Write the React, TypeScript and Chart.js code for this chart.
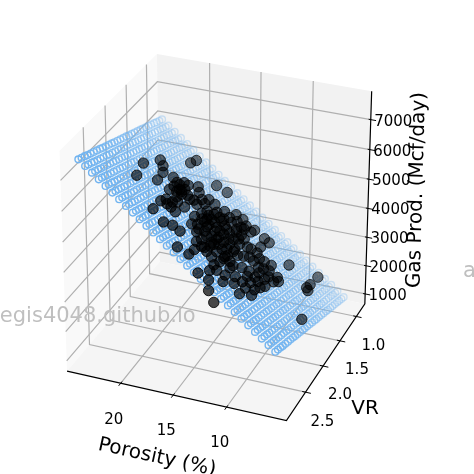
import React, { useEffect, useRef } from "react";
import { Chart, registerables } from "chart.js";
Chart.register(...registerables);

const porosityTicks = [20, 15, 10];
const vrTicks = [1.0, 1.5, 2.0, 2.5];
const gasTicks = [1000, 2000, 3000, 4000, 5000, 6000, 7000];
const porLim = [4.5, 25.2];
const vrLim = [0.734, 3.022];
const gasLim = [643, 7938];

// Measured wells
const wellPorosity = [21.74,21.18,21.38,20.92,20.50,20.21,20.16,20.12,19.83,17.79,16.97,18.37,19.39,19.13,18.86,18.67,18.85,19.23,18.49,18.81,18.74,18.34,18.08,17.63,17.60,17.69,17.45,17.19,16.67,17.98,17.89,18.59,17.44,16.93,16.32,15.50,14.67,14.73,14.48,16.55,15.89,15.27,16.69,16.33,16.26,15.89,15.40,14.97,15.60,15.23,14.74,14.37,15.67,15.06,14.56,14.07,13.70,15.13,14.35,13.73,13.25,13.68,13.20,14.71,14.18,13.64,13.61,12.71,12.28,10.17,13.27,12.98,12.48,11.89,11.05,12.13,11.85,11.64,11.32,11.42,12.17,11.37,10.87,10.94,10.33,9.94,9.66,9.94,10.06,9.98,10.62,10.54,12.37,13.12,13.17,12.50,12.22,11.29,13.48,14.08,14.19,14.14,13.55,8.26,8.17,7.92,8.14,6.61,15.07,15.60,14.99,15.77,16.03,14.88,11.92,11.84,12.89,13.13,16.12,15.71,15.34,14.33,14.55,16.07,13.37,12.72,19.16,18.80,19.26,18.67,18.21,18.49,18.16,17.34,17.10,18.41,16.11,16.62,16.11,16.24,14.88,14.39,13.83,15.06,15.43,14.65,13.80,13.74,13.89,14.08,14.52,15.64,15.45,14.81,14.31,14.51,13.15,12.78,13.09,14.17,12.63,11.73,10.99,10.65,10.85,10.73,9.85,10.50,11.20,10.36,11.09,10.17,12.36,12.38,12.72];
const wellVR = [1.97,2.27,1.65,1.70,1.81,2.02,1.20,1.06,1.73,1.15,1.09,1.48,1.75,1.64,1.82,1.74,1.90,1.98,1.87,2.30,2.19,2.14,2.24,2.25,2.03,1.77,1.63,1.52,1.50,1.56,1.82,2.54,2.59,2.50,2.48,2.76,2.70,2.55,2.36,1.74,1.46,1.32,2.02,2.19,1.95,1.80,1.67,1.53,2.00,1.85,1.72,1.56,2.24,2.15,1.98,1.85,1.69,2.39,2.26,2.12,1.92,2.40,2.19,1.29,1.35,1.37,1.28,1.26,1.25,1.30,2.85,2.64,2.80,2.96,3.06,2.48,2.61,2.35,2.47,2.05,1.62,1.65,1.60,1.92,1.83,1.70,1.75,2.04,2.14,2.39,2.37,2.55,2.21,2.24,1.97,1.89,1.81,1.83,1.60,1.43,1.61,2.09,2.04,1.02,1.28,1.42,1.39,1.99,2.28,1.80,1.70,2.16,1.94,2.07,2.10,1.81,1.68,2.49,1.60,1.64,1.48,2.17,1.85,1.87,1.76,2.19,1.74,1.62,1.86,1.82,1.79,1.99,2.06,1.79,1.65,2.25,1.68,1.86,2.10,1.78,1.86,1.74,1.58,1.94,2.10,2.39,2.24,1.92,1.77,1.98,2.17,1.94,1.60,1.42,1.45,2.04,2.13,1.97,2.35,2.39,1.65,1.68,1.78,1.72,2.05,2.21,1.83,2.07,2.16,1.93,2.32,2.26,2.29,1.46,2.53];
const wellGas = [6230,6312,5889,5798,5770,5849,5211,5089,5526,4516,4243,4932,5417,5261,5322,5211,5381,5545,5258,5676,5572,5426,5428,5318,5138,4966,4791,4635,4481,4886,5059,5799,5524,5311,5131,5115,4842,4746,4531,4630,4229,3949,4878,4913,4710,4487,4256,4029,4566,4343,4112,3889,4770,4530,4259,4027,3804,4734,4424,4144,3854,4338,4048,3773,3678,3542,3461,3202,3074,2535,4568,4331,4317,4277,4121,3976,3996,3745,3743,3452,3324,3131,2959,3221,2982,2777,2738,3035,3143,3315,3477,3591,3833,4062,3868,3624,3486,3245,3670,3710,3877,4231,4032,1791,1964,2007,2041,2076,4630,4408,4169,4737,4635,4419,3624,3380,3571,4261,4403,4316,4093,4342,4159,4598,3762,3916,5342,5160,5468,5270,5120,5357,5315,4883,4708,5530,4462,4734,4779,4570,4260,4029,3753,4372,4595,4602,4247,3985,3916,4127,4395,4530,4219,3899,3785,4295,3986,3763,4139,4470,3474,3255,3125,2983,3294,3386,2850,3211,3477,3063,3568,3268,3892,3259,4174];

// Fitted surface: one row of predicted gas per porosity, one column per VR
const surfacePorosity = [6,6.62,7.24,7.86,8.48,9.10,9.72,10.34,10.97,11.59,12.21,12.83,13.45,14.07,14.69,15.31,15.93,16.55,17.17,17.79,18.41,19.03,19.66,20.28,20.90,21.52,22.14,22.76,23.38,24];
const surfaceVR = [0.93,1.00,1.07,1.13,1.20,1.27,1.34,1.41,1.47,1.54,1.61,1.68,1.75,1.81,1.88,1.95,2.02,2.09,2.15,2.22,2.29,2.36,2.42,2.49,2.56,2.63,2.70,2.76,2.83,2.90];
const surfaceGas = [
[1100,1152,1204,1256,1308,1360,1412,1464,1516,1568,1620,1672,1724,1776,1828,1880,1932,1984,2036,2088,2140,2192,2244,2296,2348,2400,2452,2504,2556,2608],
[1271,1323,1375,1427,1479,1531,1583,1635,1687,1739,1791,1843,1895,1947,1999,2051,2103,2155,2207,2259,2311,2363,2415,2467,2519,2571,2623,2675,2727,2779],
[1442,1494,1546,1598,1650,1702,1754,1806,1858,1910,1962,2014,2066,2118,2170,2222,2274,2326,2378,2430,2482,2534,2586,2638,2690,2742,2794,2846,2898,2950],
[1613,1665,1717,1769,1821,1873,1925,1977,2029,2081,2133,2185,2237,2289,2341,2393,2445,2497,2549,2601,2653,2705,2757,2809,2861,2913,2965,3017,3069,3121],
[1784,1836,1888,1940,1992,2044,2096,2148,2200,2252,2304,2356,2408,2460,2512,2564,2616,2668,2720,2772,2824,2876,2928,2980,3032,3084,3136,3188,3240,3292],
[1955,2007,2059,2111,2163,2215,2267,2319,2371,2423,2475,2527,2579,2631,2683,2735,2787,2839,2891,2943,2995,3047,3099,3151,3203,3255,3307,3359,3411,3463],
[2126,2178,2230,2282,2334,2386,2438,2490,2542,2594,2646,2698,2750,2802,2854,2906,2958,3010,3062,3114,3166,3218,3270,3322,3374,3426,3478,3530,3582,3634],
[2297,2349,2401,2453,2505,2557,2609,2661,2713,2765,2817,2869,2921,2973,3025,3077,3129,3181,3233,3285,3337,3389,3441,3493,3545,3597,3649,3701,3753,3805],
[2468,2520,2572,2624,2676,2728,2780,2832,2884,2936,2988,3040,3092,3144,3196,3248,3300,3352,3404,3456,3508,3560,3612,3664,3716,3768,3820,3872,3924,3976],
[2639,2691,2743,2795,2847,2899,2951,3003,3055,3107,3159,3211,3263,3315,3367,3419,3471,3523,3575,3627,3679,3731,3783,3835,3887,3939,3991,4043,4095,4147],
[2810,2862,2914,2966,3018,3070,3122,3174,3226,3278,3330,3382,3434,3486,3538,3590,3642,3694,3746,3798,3850,3902,3954,4006,4058,4110,4162,4214,4266,4318],
[2981,3033,3085,3137,3189,3241,3293,3345,3397,3449,3501,3553,3605,3657,3709,3761,3813,3865,3917,3969,4021,4073,4125,4177,4229,4281,4333,4385,4437,4489],
[3152,3204,3256,3308,3360,3412,3464,3516,3568,3620,3672,3724,3776,3828,3880,3932,3984,4036,4088,4140,4192,4244,4296,4348,4400,4452,4504,4556,4608,4660],
[3323,3375,3427,3479,3531,3583,3635,3687,3739,3791,3843,3895,3947,3999,4051,4103,4155,4207,4259,4311,4363,4415,4467,4519,4571,4623,4675,4727,4779,4831],
[3494,3546,3598,3650,3702,3754,3806,3858,3910,3962,4014,4066,4118,4170,4222,4274,4326,4378,4430,4482,4534,4586,4638,4690,4742,4794,4846,4898,4950,5002],
[3665,3717,3769,3821,3873,3925,3977,4029,4081,4133,4185,4237,4289,4341,4393,4445,4497,4549,4601,4653,4705,4757,4809,4861,4913,4965,5017,5069,5121,5173],
[3836,3888,3940,3992,4044,4096,4148,4200,4252,4304,4356,4408,4460,4512,4564,4616,4668,4720,4772,4824,4876,4928,4980,5032,5084,5136,5188,5240,5292,5344],
[4007,4059,4111,4163,4215,4267,4319,4371,4423,4475,4527,4579,4631,4683,4735,4787,4839,4891,4943,4995,5047,5099,5151,5203,5255,5307,5359,5411,5463,5515],
[4178,4230,4282,4334,4386,4438,4490,4542,4594,4646,4698,4750,4802,4854,4906,4958,5010,5062,5114,5166,5218,5270,5322,5374,5426,5478,5530,5582,5634,5686],
[4349,4401,4453,4505,4557,4609,4661,4713,4765,4817,4869,4921,4973,5025,5077,5129,5181,5233,5285,5337,5389,5441,5493,5545,5597,5649,5701,5753,5805,5857],
[4520,4572,4624,4676,4728,4780,4832,4884,4936,4988,5040,5092,5144,5196,5248,5300,5352,5404,5456,5508,5560,5612,5664,5716,5768,5820,5872,5924,5976,6028],
[4691,4743,4795,4847,4899,4951,5003,5055,5107,5159,5211,5263,5315,5367,5419,5471,5523,5575,5627,5679,5731,5783,5835,5887,5939,5991,6043,6095,6147,6199],
[4862,4914,4966,5018,5070,5122,5174,5226,5278,5330,5382,5434,5486,5538,5590,5642,5694,5746,5798,5850,5902,5954,6006,6058,6110,6162,6214,6266,6318,6370],
[5033,5085,5137,5189,5241,5293,5345,5397,5449,5501,5553,5605,5657,5709,5761,5813,5865,5917,5969,6021,6073,6125,6177,6229,6281,6333,6385,6437,6489,6541],
[5204,5256,5308,5360,5412,5464,5516,5568,5620,5672,5724,5776,5828,5880,5932,5984,6036,6088,6140,6192,6244,6296,6348,6400,6452,6504,6556,6608,6660,6712],
[5375,5427,5479,5531,5583,5635,5687,5739,5791,5843,5895,5947,5999,6051,6103,6155,6207,6259,6311,6363,6415,6467,6519,6571,6623,6675,6727,6779,6831,6883],
[5546,5598,5650,5702,5754,5806,5858,5910,5962,6014,6066,6118,6170,6222,6274,6326,6378,6430,6482,6534,6586,6638,6690,6742,6794,6846,6898,6950,7002,7054],
[5717,5769,5821,5873,5925,5977,6029,6081,6133,6185,6237,6289,6341,6393,6445,6497,6549,6601,6653,6705,6757,6809,6861,6913,6965,7017,7069,7121,7173,7225],
[5888,5940,5992,6044,6096,6148,6200,6252,6304,6356,6408,6460,6512,6564,6616,6668,6720,6772,6824,6876,6928,6980,7032,7084,7136,7188,7240,7292,7344,7396],
[6059,6111,6163,6215,6267,6319,6371,6423,6475,6527,6579,6631,6683,6735,6787,6839,6891,6943,6995,7047,7099,7151,7203,7255,7307,7359,7411,7463,7515,7567],
];

const AZ = (112 * Math.PI) / 180, EL = (28 * Math.PI) / 180, DIST = 10;
const SX = 234, SY = 245, CX = 219.5, CY = 231;
function view(p: number, v: number, g: number) {
  const u = (p - porLim[0]) / (porLim[1] - porLim[0]) - 0.5;
  const w = (v - vrLim[0]) / (vrLim[1] - vrLim[0]) - 0.5;
  const h = (g - gasLim[0]) / (gasLim[1] - gasLim[0]) - 0.5;
  const xv = -Math.sin(AZ) * u + Math.cos(AZ) * w;
  const yv = -Math.sin(EL) * Math.cos(AZ) * u - Math.sin(EL) * Math.sin(AZ) * w + Math.cos(EL) * h;
  const depth = Math.cos(EL) * (Math.cos(AZ) * u + Math.sin(AZ) * w) + Math.sin(EL) * h;
  const s = DIST / (DIST - depth);
  return { x: CX + SX * xv * s, y: CY - SY * yv * s, depth };
}
const [P0, P1] = porLim, [V0, V1] = vrLim, [G0, G1] = gasLim;
const line = (pts: number[][], color: string, width: number) => ({
  type: "scatter", showLine: true, pointRadius: 0, borderColor: color, borderWidth: width,
  data: pts.map((q) => view(q[0], q[1], q[2])),
});
const pane = (pts: number[][], color: string) => ({
  type: "scatter", showLine: true, pointRadius: 0, borderWidth: 0, borderColor: color, backgroundColor: color, fill: "shape",
  data: pts.map((q) => view(q[0], q[1], q[2])),
});

export default function App() {
  const ref = useRef<HTMLCanvasElement>(null);
  useEffect(() => {
    document.body.style.margin = "0";
    const ds: any[] = [];
    ds.push(pane([[P1,V0,G0],[P1,V1,G0],[P1,V1,G1],[P1,V0,G1],[P1,V0,G0]], "#f9f9f9"));
    ds.push(pane([[P0,V0,G0],[P1,V0,G0],[P1,V0,G1],[P0,V0,G1],[P0,V0,G0]], "#f2f2f2"));
    ds.push(pane([[P0,V0,G0],[P1,V0,G0],[P1,V1,G0],[P0,V1,G0],[P0,V0,G0]], "#f5f5f5"));
    const GRID = "#b0b0b0";
    porosityTicks.forEach((p) => { ds.push(line([[p,V1,G0],[p,V0,G0],[p,V0,G1]], GRID, 1.2)); });
    vrTicks.forEach((v) => { ds.push(line([[P0,v,G0],[P1,v,G0],[P1,v,G1]], GRID, 1.2)); });
    gasTicks.forEach((g) => { ds.push(line([[P1,V1,g],[P1,V0,g],[P0,V0,g]], GRID, 1.2)); });
    ds.push(line([[P1,V1,G0],[P0,V1,G0],[P0,V0,G0],[P0,V0,G1]], "#000", 1.2));
    porosityTicks.forEach((p) => ds.push(line([[p,V1-0.03,G0],[p,V1+0.05,G0]], "#000", 1)));
    vrTicks.forEach((v) => ds.push(line([[P0+0.3,v,G0],[P0-0.5,v,G0]], "#000", 1)));
    gasTicks.forEach((g) => ds.push(line([[P0+0.2,V0,g],[P0-0.5,V0,g]], "#000", 1)));

    const mesh: any[] = [];
    surfacePorosity.forEach((p, i) => surfaceVR.forEach((v, j) => mesh.push(view(p, v, surfaceGas[i][j]))));
    mesh.sort((a, b) => a.depth - b.depth);
    const m0 = mesh[0].depth, m1 = mesh[mesh.length - 1].depth;
    ds.push({ type: "scatter", data: mesh, pointRadius: 3.4, borderWidth: 1.4, backgroundColor: "transparent",
      pointBorderColor: mesh.map((m) => `rgba(112,179,240,${(0.3 + (0.7 * (m.depth - m0)) / (m1 - m0)).toFixed(3)})`) });

    const wells = wellPorosity.map((p, i) => view(p, wellVR[i], wellGas[i]));
    wells.sort((a, b) => a.depth - b.depth);
    const alphaOf = (d: number) => 0.5 + (0.2 * (d - m0)) / (m1 - m0);
    ds.push({ type: "scatter", data: wells, pointRadius: 5.2, borderWidth: 1,
      pointBackgroundColor: wells.map((m) => `rgba(0,0,0,${alphaOf(m.depth).toFixed(3)})`),
      pointBorderColor: wells.map((m) => `rgba(0,0,0,${(alphaOf(m.depth) + 0.15).toFixed(3)})`) });

    const textPlugin = {
      id: "text3d",
      afterDraw(c: any) {
        const ctx = c.ctx, xs = c.scales.x, ys = c.scales.y;
        const put = (t: string, x: number, y: number, size: number, color = "#000", rot = 0, align = "center") => {
          ctx.save(); ctx.translate(xs.getPixelForValue(x), ys.getPixelForValue(y)); ctx.rotate((rot * Math.PI) / 180);
          ctx.font = `${size}px "DejaVu Sans"`; ctx.fillStyle = color; ctx.textAlign = align; ctx.textBaseline = "middle";
          ctx.fillText(t, 0, 0); ctx.restore();
        };
        porosityTicks.forEach((p) => { const q = view(p, V1, G0); put(String(p), q.x - 7, q.y + 36.5, 15); });
        vrTicks.forEach((v) => { const q = view(P0, v, G0); put(v.toFixed(1), q.x + 17, q.y + 29.5, 15); });
        gasTicks.forEach((g) => { const q = view(P0, V0, g); put(String(g), q.x + 22.5, q.y + 2, 15); });
        put("Porosity (%)", 157, 457.5, 20, "#000", 12.4);
        put("VR", 365, 409, 20);
        put("Gas Prod. (Mcf/day)", 417, 190, 20, "#000", -88.4);
        put("aegis4048.github.io", -13, 317, 21, "#bfbfbf", 0, "left");
        put("a", 463, 272, 21, "#bfbfbf", 0, "left");
      },
    };
    const chart = new Chart(ref.current!, {
      type: "scatter",
      data: { datasets: ds.reverse() },
      plugins: [textPlugin],
      options: {
        animation: false, responsive: false,
        layout: { padding: 0, autoPadding: false },
        plugins: { legend: { display: false }, tooltip: { enabled: false } },
        scales: {
          x: { type: "linear", min: 0, max: 474, display: false },
          y: { type: "linear", min: 0, max: 474, reverse: true, display: false },
        },
      },
    } as any);
    return () => chart.destroy();
  }, []);
  return <canvas ref={ref} width={474} height={474} style={{ display: "block" }} />;
}
